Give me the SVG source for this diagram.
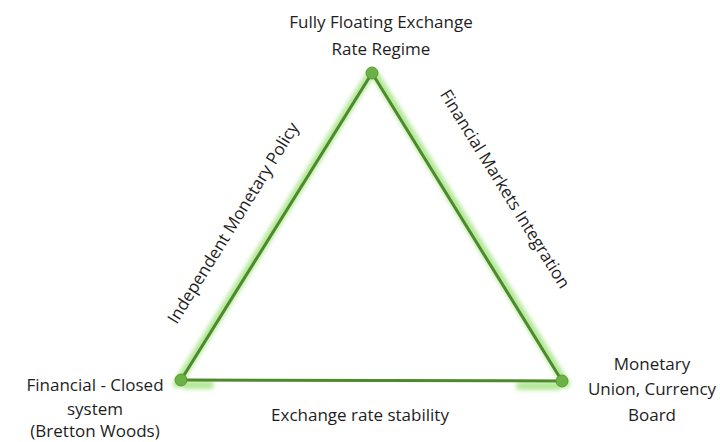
<svg xmlns="http://www.w3.org/2000/svg" width="720" height="442" viewBox="0 0 720 442">
  <defs>
    <filter id="soft" x="-20%" y="-20%" width="140%" height="140%">
      <feGaussianBlur stdDeviation="2"/>
    </filter>
    <style>
      text { font-family: "Open Sans", "Liberation Sans", sans-serif; font-size: 17px; fill: #1e1e1e; }
      .c { text-anchor: middle; }
      .glow { stroke: #9fe07a; stroke-width: 8; fill: none; stroke-linecap: round; opacity: 0.8; }
      .edge { stroke: #4c8a2c; stroke-width: 3; fill: none; stroke-linecap: round; }
      .dot { fill: #6cb146; stroke: #5a9a36; stroke-width: 1; }
    </style>
  </defs>
  <rect width="720" height="442" fill="#ffffff"/>

  <!-- connectors: triangle edges with soft green halo -->
  <g id="connectors">
    <g filter="url(#soft)">
      <line class="glow" x1="369" y1="76" x2="177" y2="384"/>
      <line class="glow" x1="376" y1="76" x2="566" y2="384"/>
      <line class="glow" x1="185" y1="385" x2="210" y2="385"/>
      <line class="glow" x1="520" y1="386" x2="558" y2="386"/>
    </g>
    <line class="edge" x1="372" y1="73" x2="181" y2="380"/>
    <line class="edge" x1="372" y1="73" x2="562" y2="381"/>
    <line class="edge" x1="181" y1="380" x2="562" y2="381"/>
    <text class="c" transform="translate(238,226) rotate(-58.2)">Independent  Monetary Policy</text>
    <text class="c" transform="translate(500,192) rotate(58.2)">Financial Markets Integration</text>
    <text class="c" x="360" y="421">Exchange rate stability</text>
  </g>

  <g id="node-top">
    <circle class="dot" cx="372" cy="73" r="6"/>
    <text class="c" x="381" y="28">Fully Floating Exchange</text>
    <text class="c" x="381" y="55">Rate Regime</text>
  </g>

  <g id="node-left">
    <circle class="dot" cx="181" cy="380" r="6"/>
    <text class="c" x="95" y="391">Financial - Closed</text>
    <text class="c" x="95" y="415">system</text>
    <text class="c" x="95" y="437">(Bretton Woods)</text>
  </g>

  <g id="node-right">
    <circle class="dot" cx="562" cy="381" r="6"/>
    <text class="c" x="652" y="370">Monetary</text>
    <text class="c" x="652" y="395">Union, Currency</text>
    <text class="c" x="652" y="421">Board</text>
  </g>
</svg>
